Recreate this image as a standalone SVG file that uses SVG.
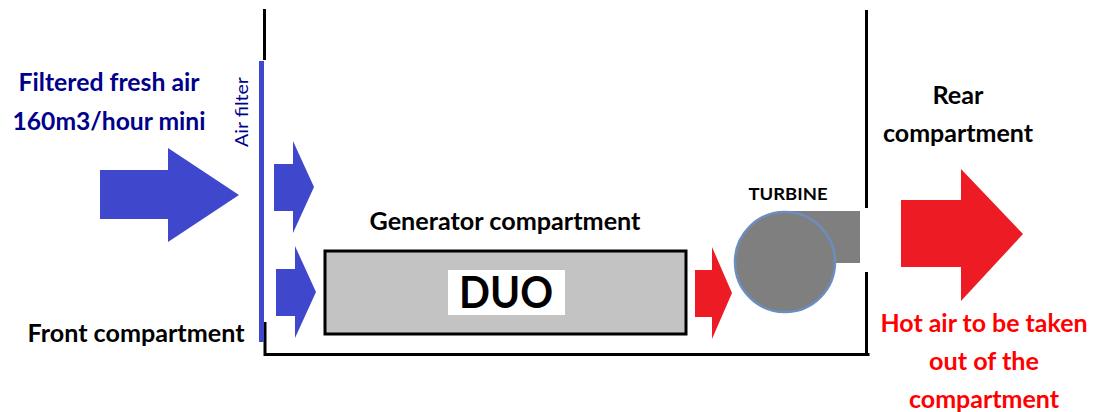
<svg xmlns="http://www.w3.org/2000/svg" width="1107" height="412" viewBox="0 0 1107 412">
<style>
text{font-family:Lato,"Open Sans","Liberation Sans",sans-serif;font-weight:700;text-anchor:middle}
.lbl{font-size:24px;fill:#000}
.nav{font-size:24px;fill:#00008b}
.hot{font-size:24px;fill:#ff0000}
.wall{fill:none;stroke:#000;stroke-width:3}
.blue{fill:#3f48cc}
.red{fill:#ed1c24}
</style>
<rect width="1107" height="412" fill="#fff"/>
<g id="connectors">
<polygon class="blue" points="100,170 168,170 168,148 239,195 168,242 168,219 100,219"/>
<polygon class="blue" points="274,164 293,164 293,141 314,187 293,233 293,211 274,211"/>
<polygon class="blue" points="276,269 295,269 295,246 316,292 295,338 295,316 276,316"/>
<polygon class="red" points="695,270 712,270 712,247 732,293 712,339 712,317 695,317"/>
<polygon class="red" points="901,200 961,200 961,169 1023,234 961,301 961,267 901,267"/>
</g>
<g id="compartment">
<path class="wall" d="M264.500 9V60M265 322V354.500H869.500M866.500 10V208M866.500 272V354.500"/>
</g>
<g id="air-filter">
<rect x="259" y="61" width="5" height="281" fill="#3f48cc"/>
<text x="248" y="112" font-size="18" transform="rotate(-90 248 112)" style="font-weight:400;fill:#00008b" textLength="70" lengthAdjust="spacingAndGlyphs">Air filter</text>
</g>
<g id="generator">
<rect x="325" y="251" width="361" height="83" fill="#c3c3c3" stroke="#000" stroke-width="3"/>
<rect x="448" y="270" width="117" height="45" fill="#fff"/>
<text x="506" y="308" font-size="44" fill="#000" textLength="94" lengthAdjust="spacingAndGlyphs">DUO</text>
</g>
<g id="turbine">
<rect x="780" y="211" width="80" height="52" fill="#7f7f7f"/>
<circle cx="785" cy="262" r="50" fill="#7f7f7f" stroke="#6c8ebf" stroke-width="2.5"/>
<text x="788" y="200" font-size="17" fill="#000" textLength="79" lengthAdjust="spacingAndGlyphs">TURBINE</text>
</g>
<g id="labels">
<text class="nav" x="109" y="91" textLength="181" lengthAdjust="spacingAndGlyphs">Filtered fresh air</text>
<text class="nav" x="109" y="130" textLength="193" lengthAdjust="spacingAndGlyphs">160m3/hour mini</text>
<text class="lbl" x="136" y="342" textLength="217" lengthAdjust="spacingAndGlyphs">Front compartment</text>
<text class="lbl" x="505" y="230" textLength="271" lengthAdjust="spacingAndGlyphs">Generator compartment</text>
<text class="lbl" x="958" y="104" textLength="51" lengthAdjust="spacingAndGlyphs">Rear</text>
<text class="lbl" x="958" y="142" textLength="150" lengthAdjust="spacingAndGlyphs">compartment</text>
<text class="hot" x="984" y="332" textLength="207" lengthAdjust="spacingAndGlyphs">Hot air to be taken</text>
<text class="hot" x="984" y="370" textLength="110" lengthAdjust="spacingAndGlyphs">out of the</text>
<text class="hot" x="984" y="408" textLength="150" lengthAdjust="spacingAndGlyphs">compartment</text>
</g>
</svg>
